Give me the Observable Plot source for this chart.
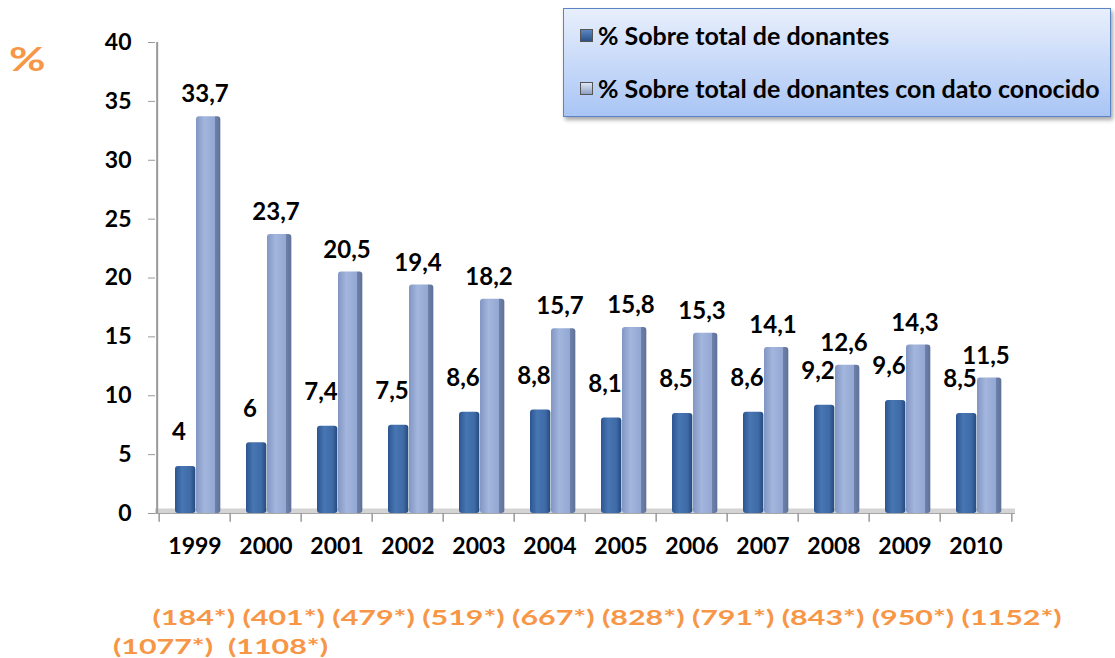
<!DOCTYPE html>
<html>
<head>
<meta charset="utf-8">
<script src="https://cdn.jsdelivr.net/npm/d3@7"></script>
<script src="https://cdn.jsdelivr.net/npm/@observablehq/plot@0.6"></script>
<style>
  html, body { margin: 0; padding: 0; background: #fff; }
  #wrap { position: relative; width: 1115px; height: 658px; overflow: hidden; font-family: Lato, "Noto Sans", sans-serif; }
  #pct { position: absolute; left: 9px; top: 38px; color: #F79646; font-weight: 700; font-size: 33px; transform: scaleX(1.35); transform-origin: left center; }
  #legend { position: absolute; left: 563px; top: 8px; width: 548px; height: 109px; box-sizing: border-box;
    border: 1.5px solid #5b84c4; background: linear-gradient(#e8effc, #a9c5f5);
    box-shadow: 2px 3px 4px rgba(0,0,0,0.35); }
  .li { position: absolute; left: 16px; font-weight: 700; font-size: 25px; line-height: 30px; color: #000; white-space: nowrap; display: flex; align-items: center; }
  .sw { display: inline-block; width: 13px; height: 13px; margin-right: 5px; border: 1px solid #555; box-sizing: border-box; }
  #counts { position: absolute; left: 113px; top: 603px; width: 660px; color: #F79646; font-weight: 700; font-size: 20px; line-height: 29px; text-indent: 26px; white-space: pre; transform: scaleX(1.52); transform-origin: left top; }
  #chart { position: absolute; left: 0; top: 0; }
</style>
</head>
<body>
<div id="wrap">
  <div id="chart"></div>
  <div id="pct">%</div>
  <div id="legend"></div>
  <div id="counts"></div>
</div>
<script>
const years = ["1999","2000","2001","2002","2003","2004","2005","2006","2007","2008","2009","2010"];
const pctTotal = [4, 6, 7.4, 7.5, 8.6, 8.8, 8.1, 8.5, 8.6, 9.2, 9.6, 8.5];
const pctKnown = [33.7, 23.7, 20.5, 19.4, 18.2, 15.7, 15.8, 15.3, 14.1, 12.6, 14.3, 11.5];
const donorCounts = [184, 401, 479, 519, 667, 828, 791, 843, 950, 1152, 1077, 1108];
const seriesNames = ["% Sobre total de donantes", "% Sobre total de donantes con dato conocido"];
const yTicks = [0, 5, 10, 15, 20, 25, 30, 35, 40];

const fmt = v => String(v).replace(".", ",");
const totalRows = years.map((y, i) => ({year: y, value: pctTotal[i]}));
const knownRows = years.map((y, i) => ({year: y, value: pctKnown[i]}));

const W = 1115, H = 578, mL = 155, mR = 100;
const step = (W - mL - mR) / years.length;

const font = "Lato, 'Noto Sans', sans-serif";
const chart = Plot.plot({
  width: W, height: H,
  marginLeft: mL, marginRight: mR, marginTop: 42, marginBottom: H - 513,
  style: {fontFamily: font, fontWeight: 700, fontSize: "23px", color: "#000", overflow: "visible"},
  x: {domain: years, padding: 0, label: null},
  y: {domain: [0, 40], ticks: yTicks, label: null},
  marks: [
    // floor
    Plot.ruleY([0], {stroke: "#d4d4d4", strokeWidth: 5, dy: -2.5}),
    Plot.ruleY([0], {stroke: "#a6a6a6", strokeWidth: 1.2}),
    // y axis line
    Plot.ruleX([years[0]], {dx: -step / 2 - 2, y1: 0, y2: 40, stroke: "#999", strokeWidth: 2}),
    // x tick marks at band boundaries
    Plot.ruleX(years, {x: d => d, dx: -step / 2, y1: 0, y2: -0.75, stroke: "#999", strokeWidth: 1.5}),
    Plot.ruleX([years[years.length - 1]], {dx: step / 2, y1: 0, y2: -0.75, stroke: "#999", strokeWidth: 1.5}),
    Plot.axisY({ticks: yTicks, tickSize: 7, tickPadding: 17, stroke: "#999", fontSize: 23, fontWeight: 700}),
    Plot.axisX({tickSize: 0, tickPadding: 24, fontSize: 23, fontWeight: 700}),
    // bars
    Plot.barY(totalRows, {x: "year", y: "value", fill: "url(#gDark)", insetLeft: 16, insetRight: step - 37, rx: 3}),
    Plot.barY(knownRows, {x: "year", y: "value", fill: "url(#gLight)", insetLeft: 37, insetRight: step - 62, rx: 3}),
    // labels
    Plot.text(totalRows, {x: "year", y: "value", text: d => fmt(d.value), dx: -16, dy: -34, fontSize: 24, fontWeight: 700, fill: "#000"}),
    Plot.text(knownRows, {x: "year", y: "value", text: d => fmt(d.value), dx: 10, dy: -22, fontSize: 24, fontWeight: 700, fill: "#000"})
  ]
});

// enlarge axis tick labels
const axisTexts = new Set([...years, ...yTicks.map(String)]);
chart.querySelectorAll("text").forEach(t => {
  if (axisTexts.has(t.textContent.trim())) {
    t.style.setProperty("font-size", "23px", "important");
    t.style.setProperty("font-weight", "700", "important");
  }
});

const defs = d3.select(chart).insert("defs", ":first-child");
function grad(id, stops) {
  const g = defs.append("linearGradient").attr("id", id).attr("x1", "0").attr("x2", "1").attr("y1", "0").attr("y2", "0");
  stops.forEach(([o, c]) => g.append("stop").attr("offset", o).attr("stop-color", c));
}
grad("gDark", [[0, "#2c5590"], [0.35, "#4776b3"], [0.75, "#3f6ba6"], [1, "#244a7f"]]);
grad("gLight", [[0, "#8196c3"], [0.35, "#a3b6dd"], [0.78, "#92a7d2"], [0.8, "#6d80a8"], [1, "#5f7198"]]);
document.getElementById("chart").appendChild(chart);

// legend
const legend = document.getElementById("legend");
const swStyles = ["linear-gradient(#5a86c2, #2b5288)", "linear-gradient(#dfe7f6, #8ea0c4)"];
seriesNames.forEach((name, i) => {
  const d = document.createElement("div");
  d.className = "li";
  d.style.top = (i === 0 ? 11 : 64) + "px";
  const s = document.createElement("span");
  s.className = "sw";
  s.style.background = swStyles[i];
  d.appendChild(s);
  d.appendChild(document.createTextNode(name));
  legend.appendChild(d);
});

// counts
const parts = donorCounts.map(c => "(" + c + "*)");
document.getElementById("counts").textContent = parts.slice(0, 10).join(" ") + "\n" + parts.slice(10).join("  ");
</script>
</body>
</html>
